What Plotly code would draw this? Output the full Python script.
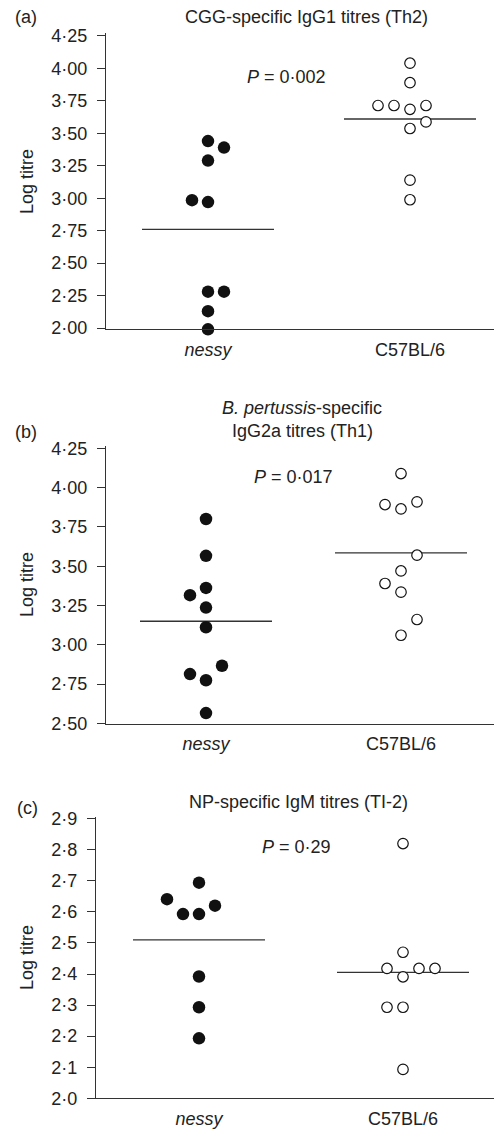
import plotly.graph_objects as go

W, H = 502, 1129
OFF = 8  # the page body adds an 8px margin around the figure

# ---------------- data ----------------
groups = ["nessy", "C57BL/6"]

# panel (a) CGG-specific IgG1
a_nessy = [3.44, 3.39, 3.29, 2.985, 2.97, 2.28, 2.28, 2.13, 1.99]
a_nessy_slot = [0, 1, 0, -1, 0, 0, 1, 0, 0]
a_c57 = [4.04, 3.89, 3.714, 3.714, 3.685, 3.714, 3.588, 3.537, 3.139, 2.988]
a_c57_slot = [0, 0, -2, -1, 0, 1, 1, 0, 0, 0]
a_means = [2.76, 3.61]
a_ticks = [2.00, 2.25, 2.50, 2.75, 3.00, 3.25, 3.50, 3.75, 4.00, 4.25]

# panel (b) B. pertussis-specific IgG2a
b_nessy = [3.80, 3.566, 3.362, 3.316, 3.237, 3.112, 2.867, 2.814, 2.775, 2.566]
b_nessy_slot = [0, 0, 0, -1, 0, 0, 1, -1, 0, 0]
b_c57 = [4.089, 3.892, 3.864, 3.909, 3.57, 3.47, 3.39, 3.335, 3.161, 3.061]
b_c57_slot = [0, -1, 0, 1, 1, 0, -1, 0, 1, 0]
b_means = [3.15, 3.585]
b_ticks = [2.50, 2.75, 3.00, 3.25, 3.50, 3.75, 4.00, 4.25]

# panel (c) NP-specific IgM
c_nessy = [2.694, 2.641, 2.62, 2.593, 2.593, 2.392, 2.293, 2.193]
c_nessy_slot = [0, -2, 1, -1, 0, 0, 0, 0]
c_c57 = [2.82, 2.47, 2.418, 2.418, 2.418, 2.391, 2.293, 2.293, 2.093]
c_c57_slot = [0, 0, -1, 1, 2, 0, -1, 0, 0]
c_means = [2.51, 2.405]
c_ticks = [2.0, 2.1, 2.2, 2.3, 2.4, 2.5, 2.6, 2.7, 2.8, 2.9]

# ---------------- layout helpers ----------------
FONT = "Liberation Sans, Arial, Helvetica, sans-serif"
INK = "#222222"
AX = "#333333"


def px(x):
    return (x - OFF) / W


def py(y):
    return 1 - (y - OFF) / H


panels = [
    dict(nessy=a_nessy, ns=a_nessy_slot, c57=a_c57, cs=a_c57_slot, means=a_means,
         ticks=a_ticks, dec=2, axis_x=106, cat0=208, cat1=410, top=33, bottom=329.3,
         y0=1.99, ppu=129.8),
    dict(nessy=b_nessy, ns=b_nessy_slot, c57=b_c57, cs=b_c57_slot, means=b_means,
         ticks=b_ticks, dec=2, axis_x=106, cat0=206, cat1=401, top=446, bottom=723.5,
         y0=2.5, ppu=157.3),
    dict(nessy=c_nessy, ns=c_nessy_slot, c57=c_c57, cs=c_c57_slot, means=c_means,
         ticks=c_ticks, dec=1, axis_x=96, cat0=199, cat1=403, top=816.7, bottom=1098.3,
         y0=2.0, ppu=310.7),
]

fig = go.Figure()
layout = {}
SLOT_PX = 16
HALF_LINE_PX = 66
RIGHT_PX = 502

for i, p in enumerate(panels):
    n = i + 1
    xa = "x" if n == 1 else f"x{n}"
    ya = "y" if n == 1 else f"y{n}"
    cat_px = p["cat1"] - p["cat0"]
    slot = SLOT_PX / cat_px
    half = HALF_LINE_PX / cat_px

    for k, m in enumerate(p["means"]):
        fig.add_trace(go.Scatter(
            x=[k - half, k + half], y=[m, m], mode="lines",
            line=dict(color=AX, width=1.3),
            xaxis=xa, yaxis=ya, showlegend=False, hoverinfo="skip"))
    fig.add_trace(go.Scatter(
        x=[s * slot for s in p["ns"]], y=p["nessy"], mode="markers",
        marker=dict(size=12.5, color="#111111", line=dict(width=0)),
        cliponaxis=False,
        xaxis=xa, yaxis=ya, showlegend=False, hoverinfo="y"))
    fig.add_trace(go.Scatter(
        x=[1 + s * slot for s in p["cs"]], y=p["c57"], mode="markers",
        marker=dict(size=10.5, color="white", line=dict(width=1.2, color="#111111")),
        cliponaxis=False,
        xaxis=xa, yaxis=ya, showlegend=False, hoverinfo="y"))

    xr = [-(p["cat0"] - p["axis_x"]) / cat_px, (RIGHT_PX - p["cat0"]) / cat_px]
    yr = [p["y0"], p["y0"] + (p["bottom"] - p["top"]) / p["ppu"]]
    key_x = "xaxis" if n == 1 else f"xaxis{n}"
    key_y = "yaxis" if n == 1 else f"yaxis{n}"
    layout[key_x] = dict(
        domain=[px(p["axis_x"]), px(RIGHT_PX)], range=xr, anchor=ya, automargin=False,
        tickvals=[0, 1], ticktext=["<i>nessy</i>", "C57BL/6"],
        ticks="", showgrid=False, zeroline=False, showline=True,
        linecolor=AX, linewidth=1.3, ticklabelstandoff=4,
        tickfont=dict(family=FONT, size=18, color=INK), fixedrange=True)
    fmt = f"{{:.{p['dec']}f}}"
    layout[key_y] = dict(
        domain=[py(p["bottom"]), py(p["top"])], range=yr, anchor=xa, automargin=False,
        tickvals=p["ticks"], ticktext=[fmt.format(t).replace(".", "·") for t in p["ticks"]],
        ticks="outside", ticklen=8, tickwidth=1.2, tickcolor=AX,
        showgrid=False, zeroline=False, showline=True, linecolor=AX, linewidth=1.3,
        ticklabelstandoff=6,
        tickfont=dict(family=FONT, size=18, color=INK), fixedrange=True)

ann = []


def text(x, y, s, size=18, angle=0):
    ann.append(dict(x=px(x), y=py(y), xref="paper", yref="paper", text=s,
                    showarrow=False, xanchor="center", yanchor="middle",
                    textangle=angle, font=dict(family=FONT, size=size, color=INK)))


# panel letters
text(26, 17, "(a)")
text(26, 432, "(b)")
text(27, 808, "(c)")
# titles
text(306, 17, "CGG-specific IgG1 titres (Th2)")
text(302, 408, "<i>B. pertussis</i>-specific")
text(302, 431, "IgG2a titres (Th1)")
text(298, 802, "NP-specific IgM titres (TI-2)")
# P values
text(286, 77, "<i>P</i> = 0·002")
text(293, 477, "<i>P</i> = 0·017")
text(296, 847, "<i>P</i> = 0·29")
# y titles
text(27, 182, "Log titre", angle=-90)
text(27, 585, "Log titre", angle=-90)
text(27, 958, "Log titre", angle=-90)

fig.update_layout(
    template="none",
    width=W, height=H, margin=dict(l=0, r=0, t=0, b=0, autoexpand=False),
    paper_bgcolor="white", plot_bgcolor="white",
    annotations=ann, showlegend=False, **layout)

fig.write_html("out.html")
